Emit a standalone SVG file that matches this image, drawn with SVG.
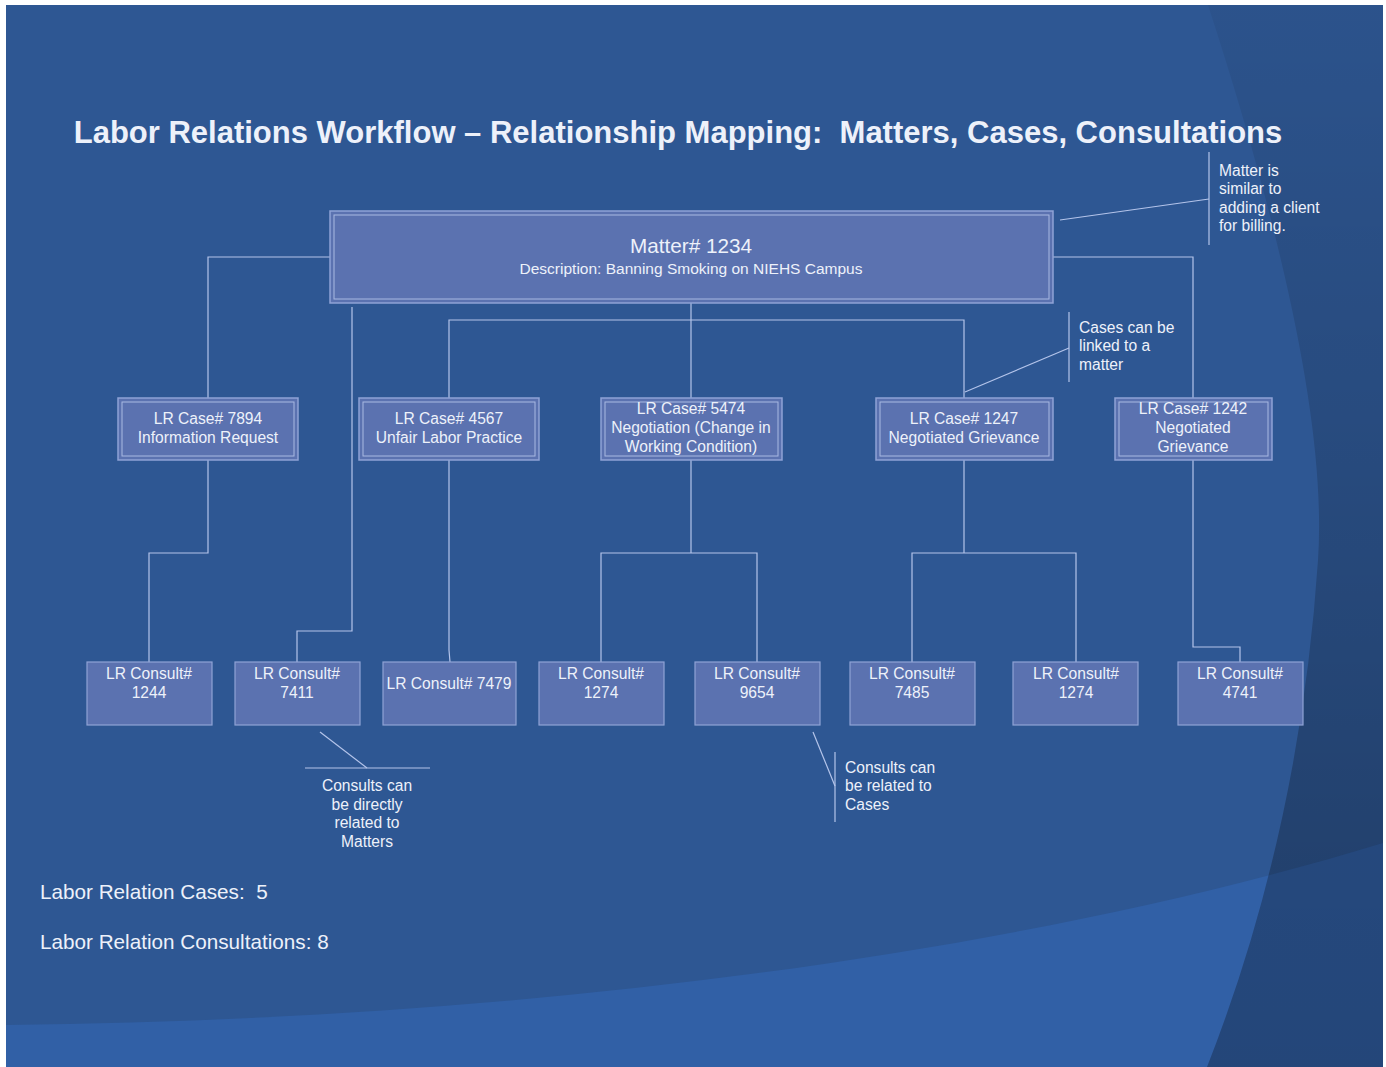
<svg xmlns="http://www.w3.org/2000/svg" width="1386" height="1067" viewBox="0 0 1386 1067">
<defs>
<linearGradient id="dk" x1="0" y1="0" x2="0" y2="1067" gradientUnits="userSpaceOnUse">
<stop offset="0" stop-color="#000" stop-opacity="0.05"/>
<stop offset="0.4" stop-color="#000" stop-opacity="0.14"/>
<stop offset="0.8" stop-color="#000" stop-opacity="0.25"/>
<stop offset="1" stop-color="#000" stop-opacity="0.27"/>
</linearGradient>
<style>
.t{font-family:"Liberation Sans",Arial,sans-serif;fill:#EDF1FA;white-space:pre;}
.s{font-size:15.6px;}
.box{fill:#5B72B0;stroke:#8FA3D6;stroke-width:1.5;}
.inner{fill:none;stroke:#A9B9E2;stroke-width:1;}
.cl{fill:#5B72B0;stroke:#8FA3D6;stroke-width:1.2;}
.c{fill:none;stroke:#B4C4EA;stroke-width:1.2;}
</style>
</defs>
<rect width="1386" height="1067" fill="#fff"/>
<g id="background">
<rect x="6" y="5" width="1377" height="1062" fill="#2E5793"/>
<path d="M6,1025 C500,1020 1000,960 1383,843 L1383,1067 L6,1067 Z" fill="#3160A6"/>
<path d="M1208,5 Q1330,380 1318,560 Q1300,830 1207,1067 L1383,1067 L1383,5 Z" fill="url(#dk)"/>
</g>
<text class="t" x="678" y="143" font-size="31" font-weight="bold" text-anchor="middle" xml:space="preserve">Labor Relations Workflow – Relationship Mapping:  Matters, Cases, Consultations</text>
<g id="connectors">
<polyline class="c" points="330,257 208,257 208,398"/>
<polyline class="c" points="1053,257 1193,257 1193,398"/>
<line class="c" x1="691" y1="303" x2="691" y2="398"/>
<polyline class="c" points="449,398 449,320 964,320 964,398"/>
<polyline class="c" points="352,307 352,631 297,631 297,662"/>
<polyline class="c" points="208,460 208,553 149,553 149,662"/>
<polyline class="c" points="449,460 449,650 450,662"/>
<polyline class="c" points="601,662 601,553 757,553 757,662"/>
<line class="c" x1="691" y1="460" x2="691" y2="553"/>
<polyline class="c" points="912,662 912,553 1076,553 1076,662"/>
<line class="c" x1="964" y1="460" x2="964" y2="553"/>
<polyline class="c" points="1193,460 1193,647 1240,647 1240,662"/>
</g>
<g id="matter">
<rect class="box" x="330" y="211" width="723" height="92"/>
<rect class="inner" x="334" y="215" width="715" height="84"/>
<text class="t" x="691" y="253" font-size="20.7" text-anchor="middle">Matter# 1234</text>
<text class="t" x="691" y="274" font-size="15.5" text-anchor="middle">Description: Banning Smoking on NIEHS Campus</text>
</g>
<g id="case7894">
<rect class="box" x="118" y="398" width="180" height="62"/>
<rect class="inner" x="122" y="402" width="172" height="54"/>
<text class="t s" x="208" y="424" text-anchor="middle">LR Case# 7894</text>
<text class="t s" x="208" y="443" text-anchor="middle">Information Request</text>
</g>
<g id="case4567">
<rect class="box" x="359" y="398" width="180" height="62"/>
<rect class="inner" x="363" y="402" width="172" height="54"/>
<text class="t s" x="449" y="424" text-anchor="middle">LR Case# 4567</text>
<text class="t s" x="449" y="443" text-anchor="middle">Unfair Labor Practice</text>
</g>
<g id="case5474">
<rect class="box" x="601" y="398" width="181" height="62"/>
<rect class="inner" x="605" y="402" width="173" height="54"/>
<text class="t s" x="691" y="414" text-anchor="middle">LR Case# 5474</text>
<text class="t s" x="691" y="433" text-anchor="middle">Negotiation (Change in</text>
<text class="t s" x="691" y="452" text-anchor="middle">Working Condition)</text>
</g>
<g id="case1247">
<rect class="box" x="876" y="398" width="177" height="62"/>
<rect class="inner" x="880" y="402" width="169" height="54"/>
<text class="t s" x="964" y="424" text-anchor="middle">LR Case# 1247</text>
<text class="t s" x="964" y="443" text-anchor="middle">Negotiated Grievance</text>
</g>
<g id="case1242">
<rect class="box" x="1115" y="398" width="157" height="62"/>
<rect class="inner" x="1119" y="402" width="149" height="54"/>
<text class="t s" x="1193" y="414" text-anchor="middle">LR Case# 1242</text>
<text class="t s" x="1193" y="433" text-anchor="middle">Negotiated</text>
<text class="t s" x="1193" y="452" text-anchor="middle">Grievance</text>
</g>
<g id="consult1244">
<rect class="cl" x="87" y="662" width="125" height="63"/>
<text class="t s" x="149" y="679" text-anchor="middle">LR Consult#</text>
<text class="t s" x="149" y="698" text-anchor="middle">1244</text>
</g>
<g id="consult7411">
<rect class="cl" x="235" y="662" width="125" height="63"/>
<text class="t s" x="297" y="679" text-anchor="middle">LR Consult#</text>
<text class="t s" x="297" y="698" text-anchor="middle">7411</text>
</g>
<g id="consult7479">
<rect class="cl" x="383" y="662" width="133" height="63"/>
<text class="t s" x="449" y="689" text-anchor="middle">LR Consult# 7479</text>
</g>
<g id="consult1274a">
<rect class="cl" x="539" y="662" width="125" height="63"/>
<text class="t s" x="601" y="679" text-anchor="middle">LR Consult#</text>
<text class="t s" x="601" y="698" text-anchor="middle">1274</text>
</g>
<g id="consult9654">
<rect class="cl" x="695" y="662" width="125" height="63"/>
<text class="t s" x="757" y="679" text-anchor="middle">LR Consult#</text>
<text class="t s" x="757" y="698" text-anchor="middle">9654</text>
</g>
<g id="consult7485">
<rect class="cl" x="850" y="662" width="125" height="63"/>
<text class="t s" x="912" y="679" text-anchor="middle">LR Consult#</text>
<text class="t s" x="912" y="698" text-anchor="middle">7485</text>
</g>
<g id="consult1274b">
<rect class="cl" x="1013" y="662" width="125" height="63"/>
<text class="t s" x="1076" y="679" text-anchor="middle">LR Consult#</text>
<text class="t s" x="1076" y="698" text-anchor="middle">1274</text>
</g>
<g id="consult4741">
<rect class="cl" x="1178" y="662" width="125" height="63"/>
<text class="t s" x="1240" y="679" text-anchor="middle">LR Consult#</text>
<text class="t s" x="1240" y="698" text-anchor="middle">4741</text>
</g>
<g id="callout-matter">
<line class="c" x1="1209" y1="152" x2="1209" y2="245"/>
<line class="c" x1="1209" y1="199" x2="1060" y2="220"/>
<text class="t s" x="1219" y="176">Matter is</text>
<text class="t s" x="1219" y="194">similar to</text>
<text class="t s" x="1219" y="213">adding a client</text>
<text class="t s" x="1219" y="231">for billing.</text>
</g>
<g id="callout-cases">
<line class="c" x1="1069" y1="312" x2="1069" y2="382"/>
<line class="c" x1="1069" y1="348" x2="965" y2="392"/>
<text class="t s" x="1079" y="333">Cases can be</text>
<text class="t s" x="1079" y="351">linked to a</text>
<text class="t s" x="1079" y="370">matter</text>
</g>
<g id="callout-consult-matter">
<line class="c" x1="305" y1="768" x2="430" y2="768"/>
<line class="c" x1="320" y1="732" x2="367" y2="768"/>
<text class="t s" x="367" y="791" text-anchor="middle">Consults can</text>
<text class="t s" x="367" y="810" text-anchor="middle">be directly</text>
<text class="t s" x="367" y="828" text-anchor="middle">related to</text>
<text class="t s" x="367" y="847" text-anchor="middle">Matters</text>
</g>
<g id="callout-consult-case">
<line class="c" x1="835" y1="752" x2="835" y2="822"/>
<line class="c" x1="813" y1="732" x2="835" y2="786"/>
<text class="t s" x="845" y="773">Consults can</text>
<text class="t s" x="845" y="791">be related to</text>
<text class="t s" x="845" y="810">Cases</text>
</g>
<text class="t" x="40" y="899" font-size="20.7" xml:space="preserve">Labor Relation Cases:  5</text>
<text class="t" x="40" y="949" font-size="20.7">Labor Relation Consultations: 8</text>
</svg>
